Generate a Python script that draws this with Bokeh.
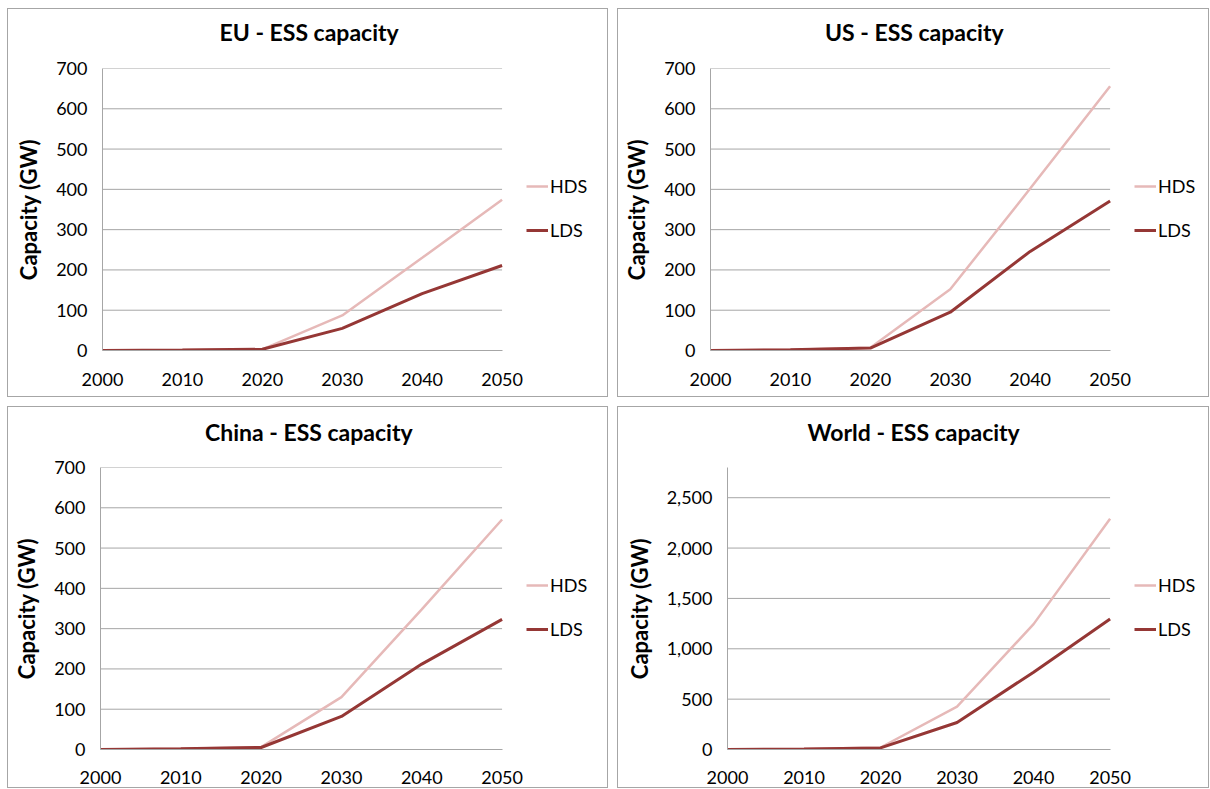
from bokeh.plotting import figure
from bokeh.models import Range1d, FixedTicker, NumeralTickFormatter, Legend, LegendItem, Title
from bokeh.layouts import row, column
from bokeh.embed import file_html
from bokeh.resources import INLINE

years = [2000, 2010, 2020, 2030, 2040, 2050]
series_names = ["HDS", "LDS"]

eu_hds = [0, 1, 3, 87, 230, 374]
eu_lds = [0, 1, 3, 55, 141, 211]
us_hds = [0, 2, 7, 152, 402, 656]
us_lds = [0, 2, 6, 95, 246, 371]
cn_hds = [0, 2, 6, 130, 348, 571]
cn_lds = [0, 2, 5, 82, 212, 323]
w_hds = [0, 6, 20, 425, 1245, 2292]
w_lds = [0, 5, 16, 268, 768, 1295]

titles = ["EU - ESS capacity", "US - ESS capacity", "China - ESS capacity", "World - ESS capacity"]
y_ticks_small = [0, 100, 200, 300, 400, 500, 600, 700]
y_ticks_world = [0, 500, 1000, 1500, 2000, 2500]

HDS_COLOR = "#E6B9B8"
LDS_COLOR = "#953735"
GRID = "#A6A6A6"
FONT = "Lato"
FRAME_H = 280


def panel(title, title_w, hds, lds, yticks, ymax, content_w, content_h, mb_left, data_w, top_px,
          spacer, x_standoff, fmt=None):
    # the plot frame reaches the panel's right edge; the data area is its left data_w pixels
    frame_w = content_w - mb_left
    x0, x1 = years[0], years[-1]
    x_end = x1 + (x1 - x0) * (frame_w - data_w) / data_w
    mb_bottom = content_h - top_px - FRAME_H
    p = figure(frame_width=frame_w, frame_height=FRAME_H, output_backend="svg", toolbar_location=None,
               x_range=Range1d(x0, x_end), y_range=Range1d(0, ymax),
               min_border_left=mb_left, min_border_right=0,
               min_border_top=top_px, min_border_bottom=mb_bottom)
    p.styles = {"border": "1px solid #A6A6A6"}
    p.outline_line_color = None
    p.background_fill_color = "white"
    p.border_fill_color = "white"

    # spacer between frame and title, then the title itself (centred on the panel)
    p.add_layout(Title(text=" ", text_font_size="1px", standoff=spacer), "above")
    p.add_layout(Title(text=title, text_font=FONT, text_font_size="23px", text_font_style="bold",
                       text_color="#000000", align="left", standoff=0,
                       offset=content_w / 2 - mb_left - title_w / 2), "above")

    p.xgrid.grid_line_color = None
    p.ygrid.grid_line_color = None
    gy = [t for t in yticks if t > 0]
    p.segment(x0=[x0] * len(gy), x1=[x1] * len(gy), y0=gy, y1=gy,
              line_color=GRID, line_width=1)

    p.xaxis.ticker = FixedTicker(ticks=years)
    p.xaxis.bounds = (x0, x1)
    p.yaxis.ticker = FixedTicker(ticks=yticks)
    if fmt is not None:
        p.yaxis.formatter = NumeralTickFormatter(format=fmt)
    for ax in (p.xaxis[0], p.yaxis[0]):
        ax.axis_line_color = GRID
        ax.axis_line_width = 1
        ax.major_tick_line_color = None
        ax.minor_tick_line_color = None
        ax.major_tick_out = 0
        ax.major_tick_in = 0
        ax.major_label_text_font = FONT
        ax.major_label_text_font_size = "18px"
        ax.major_label_text_color = "#000000"
    p.xaxis.major_label_standoff = x_standoff
    p.yaxis.major_label_standoff = 15
    p.yaxis.axis_label = "Capacity (GW)"
    p.yaxis.axis_label_text_font = FONT
    p.yaxis.axis_label_text_font_size = "22px"
    p.yaxis.axis_label_text_font_style = "bold"
    p.yaxis.axis_label_text_color = "#000000"
    p.yaxis.axis_label_standoff = 11

    r1 = p.line(years, hds, line_color=HDS_COLOR, line_width=2.5)
    r2 = p.line(years, lds, line_color=LDS_COLOR, line_width=3)
    leg = Legend(items=[LegendItem(label=series_names[0], renderers=[r1]),
                        LegendItem(label=series_names[1], renderers=[r2])],
                 location=(data_w + 26, 109), orientation="vertical")
    leg.border_line_color = None
    leg.background_fill_alpha = 0
    leg.margin = 0
    leg.padding = 10
    leg.spacing = 22
    leg.glyph_width = 22
    leg.label_standoff = 2
    leg.label_text_font = FONT
    leg.label_text_font_size = "18px"
    leg.label_text_color = "#000000"
    p.add_layout(leg, "center")
    return p


p1 = panel(titles[0], 177, eu_hds, eu_lds, y_ticks_small, 700, 599, 387, 94, 398, 59, 20, 22)
p2 = panel(titles[1], 177, us_hds, us_lds, y_ticks_small, 700, 590, 387, 92, 398, 59, 20, 22)
p3 = panel(titles[2], 206, cn_hds, cn_lds, y_ticks_small, 700, 599, 380, 92, 400, 60, 19, 21)
p4 = panel(titles[3], 212, w_hds, w_lds, y_ticks_world, 2800, 590, 380, 109, 381, 60, 19, 21, fmt="0,0")

layout = column(row(p1, p2, spacing=9), row(p3, p4, spacing=9), spacing=9, margin=(8, 0, 0, 7))

open("out.html", "w").write(file_html(layout, INLINE))
